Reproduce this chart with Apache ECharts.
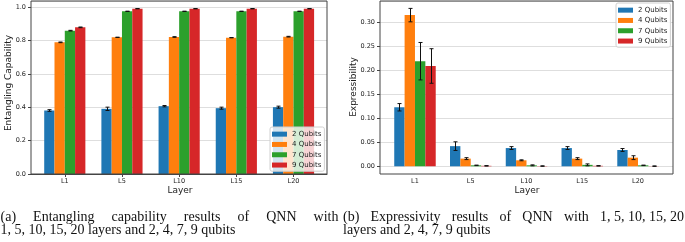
<!DOCTYPE html>
<html><head><meta charset="utf-8">
<script src="https://cdn.jsdelivr.net/npm/echarts@6/dist/echarts.min.js"></script>
<style>html,body{margin:0;padding:0;background:#fff}#c{width:685px;height:242px}</style>
</head><body><div id="c"></div>
<script>
// ---- data ----
const layers = ['L1', 'L5', 'L10', 'L15', 'L20'];
const qubitNames = ['2 Qubits', '4 Qubits', '7 Qubits', '9 Qubits'];

// (a) Entangling capability
const ent2 = [0.381, 0.391, 0.407, 0.395, 0.401];
const ent4 = [0.790, 0.820, 0.822, 0.818, 0.824];
const ent7 = [0.860, 0.976, 0.976, 0.976, 0.976];
const ent9 = [0.880, 0.992, 0.992, 0.992, 0.992];
const entErr2 = [0.005, 0.010, 0.004, 0.006, 0.006];
const entErr4 = [0.002, 0.001, 0.002, 0.001, 0.002];
const entErr7 = [0.002, 0.001, 0.001, 0.001, 0.001];
const entErr9 = [0.002, 0.001, 0.001, 0.001, 0.001];

// (b) Expressibility
const exp2 = [0.123, 0.042, 0.038, 0.038, 0.034];
const exp4 = [0.315, 0.016, 0.0125, 0.016, 0.018];
const exp7 = [0.219, 0.002, 0.002, 0.003, 0.002];
const exp9 = [0.209, 0.001, 0.0005, 0.001, 0.0003];
const expErr2 = [0.0077, 0.009, 0.003, 0.003, 0.003];
const expErr4 = [0.014, 0.002, 0.001, 0.002, 0.004];
const expErr7 = [0.039, 0.0005, 0.001, 0.002, 0.0005];
const expErr9 = [0.036, 0.0005, 0.0005, 0.0005, 0.0005];

const entTickStep = 0.2;
const expTickStep = 0.05;

const captionA1 = ['(a)', 'Entangling', 'capability', 'results', 'of', 'QNN', 'with'];
const captionA2 = '1, 5, 10, 15, 20 layers and 2, 4, 7, 9 qubits';
const captionB1 = ['(b)', 'Expressivity', 'results', 'of', 'QNN', 'with', '1, 5, 10, 15, 20'];
const captionB2 = 'layers and 2, 4, 7, 9 qubits';

// ---- styling ----
const colors = ['#1f77b4', '#ff7f0e', '#2ca02c', '#d62728'];
const SANS = 'DejaVu Sans';
const SERIF = 'Liberation Serif';
const CAP_SIZE = 14;
const spine = '#444';
const gridCol = '#dedede';

const entVals = [ent2, ent4, ent7, ent9];
const entErrs = [entErr2, entErr4, entErr7, entErr9];
const expVals = [exp2, exp4, exp7, exp9];
const expErrs = [expErr2, expErr4, expErr7, expErr9];

function errRender(k, frac) {
  return function (params, api) {
    const i = api.value(0), v = api.value(1), e = api.value(2);
    const band = api.size([1, 0])[0];
    const off = (k - 1.5) * frac * band;
    const top = api.coord([i, v + e]);
    const bot = api.coord([i, v - e]);
    const x = Math.round(top[0] + off) + 0.5;
    const cw = 2;
    const st = { stroke: '#111', lineWidth: 1 };
    return { type: 'group', children: [
      { type: 'line', shape: { x1: x, y1: top[1], x2: x, y2: bot[1] }, style: st },
      { type: 'line', shape: { x1: x - cw, y1: top[1], x2: x + cw, y2: top[1] }, style: st },
      { type: 'line', shape: { x1: x - cw, y1: bot[1], x2: x + cw, y2: bot[1] }, style: st }
    ]};
  };
}

const series = [];
function addChart(vals, errs, axisIdx, frac) {
  vals.forEach((arr, k) => {
    series.push({
      type: 'bar', name: qubitNames[k], xAxisIndex: axisIdx, yAxisIndex: axisIdx,
      data: arr, barWidth: (frac * 100) + '%', barGap: '0%',
      itemStyle: { color: colors[k] }, z: 2, silent: true
    });
  });
  errs.forEach((arr, k) => {
    series.push({
      type: 'custom', xAxisIndex: axisIdx, yAxisIndex: axisIdx, z: 3, silent: true,
      data: arr.map((e, i) => [i, vals[k][i], e]),
      encode: { x: 0, y: 1 },
      renderItem: errRender(k, frac)
    });
  });
}
addChart(entVals, entErrs, 1, 0.18);
addChart(expVals, expErrs, 4, 0.186);

const tickLabel = { fontSize: 6.5, color: '#222', fontFamily: SANS };

const legendBase = {
  orient: 'vertical', data: qubitNames, icon: 'rect', itemWidth: 15, itemHeight: 5,
  itemGap: 0, padding: [2, 3, 1, 2], backgroundColor: 'rgba(255,255,255,0.8)',
  borderColor: '#d0d0d0', borderWidth: 1, borderRadius: 2, selectedMode: false,
  textStyle: { fontSize: 7, lineHeight: 10.3, color: '#222', fontFamily: SANS }
};

// text measuring for justified caption lines
const mctx = document.createElement('canvas').getContext('2d');
mctx.font = CAP_SIZE + 'px "' + SERIF + '"';
function capText(t, x, y) {
  return { type: 'text', x: x, y: y,
    style: { text: t, fontSize: CAP_SIZE, fontFamily: SERIF, fill: '#111', align: 'left', verticalAlign: 'middle' } };
}
function justified(tokens, x0, x1, y) {
  const w = tokens.map(t => mctx.measureText(t).width);
  const total = w.reduce((a, b) => a + b, 0);
  const gap = (x1 - x0 - total) / (tokens.length - 1);
  let x = x0;
  return tokens.map((t, i) => { const el = capText(t, x, y); x += w[i] + gap; return el; });
}

function axisTitle(t, x, y, rot) {
  return { type: 'text', x: x, y: y, rotation: rot || 0,
    style: { text: t, fontSize: 9, fontFamily: SANS, fill: '#222', align: 'center', verticalAlign: 'middle' } };
}

const option = {
  animation: false,
  textStyle: { fontFamily: SANS },
  grid: [
    { left: 31, top: 1, width: 296, height: 173, show: true, borderColor: spine, borderWidth: 1, backgroundColor: 'transparent', z: 10 },
    { left: 36.2, top: 1, width: 285.9, height: 173 },
    { left: 380, top: 1, width: 293, height: 173, show: true, borderColor: spine, borderWidth: 1, backgroundColor: 'transparent', z: 10 },
    { left: 380, top: 1, width: 293, height: 165.3 },
    { left: 387.1, top: 1, width: 278.8, height: 165.3 }
  ],
  xAxis: [
    { gridIndex: 0, type: 'value', min: 0, max: 1, z: 10,
      axisLine: { show: true, lineStyle: { color: spine } }, axisLabel: { show: false }, axisTick: { show: false }, splitLine: { show: false } },
    { gridIndex: 1, type: 'category', data: layers, axisLine: { show: false },
      axisTick: { show: true, alignWithLabel: true, length: 3, lineStyle: { color: spine } },
      axisLabel: Object.assign({ margin: 4 }, tickLabel) },
    { gridIndex: 2, type: 'value', show: false },
    { gridIndex: 3, type: 'value', show: false },
    { gridIndex: 4, type: 'category', data: layers, axisLine: { show: false }, axisTick: { show: false },
      axisLabel: Object.assign({ margin: 12 }, tickLabel) }
  ],
  yAxis: [
    { gridIndex: 0, type: 'value', min: 0, max: 1.038, interval: entTickStep,
      axisLine: { show: false }, axisTick: { show: true, length: 3, lineStyle: { color: spine } },
      axisLabel: Object.assign({ margin: 5, showMaxLabel: false, formatter: v => v.toFixed(1) }, tickLabel),
      splitLine: { show: true, lineStyle: { color: gridCol, width: 1 } } },
    { gridIndex: 1, type: 'value', min: 0, max: 1.038, show: false },
    { gridIndex: 2, type: 'value', show: false },
    { gridIndex: 3, type: 'value', min: 0, max: 0.3444, interval: expTickStep,
      axisLine: { show: false }, axisTick: { show: true, length: 3, lineStyle: { color: spine } },
      axisLabel: Object.assign({ margin: 5, showMaxLabel: false, formatter: v => v.toFixed(2) }, tickLabel),
      splitLine: { show: true, lineStyle: { color: gridCol, width: 1 } } },
    { gridIndex: 4, type: 'value', min: 0, max: 0.3444, show: false }
  ],
  legend: [
    Object.assign({ left: 270, top: 127 }, legendBase),
    Object.assign({ left: 616, top: 3 }, legendBase)
  ],
  graphic: [
    axisTitle('Entangling Capability', 9, 83, Math.PI / 2),
    axisTitle('Expressibility', 354, 87, Math.PI / 2),
    axisTitle('Layer', 180, 191),
    axisTitle('Layer', 527, 191)
  ].concat(
    justified(captionA1, 0.5, 338.5, 217),
    [capText(captionA2, 0.5, 230)],
    justified(captionB1, 343, 684, 217),
    [capText(captionB2, 343, 230)]
  ),
  series: series
};

const chart = echarts.init(document.getElementById('c'), null, { renderer: 'canvas' });
chart.setOption(option);
</script>
</body></html>
